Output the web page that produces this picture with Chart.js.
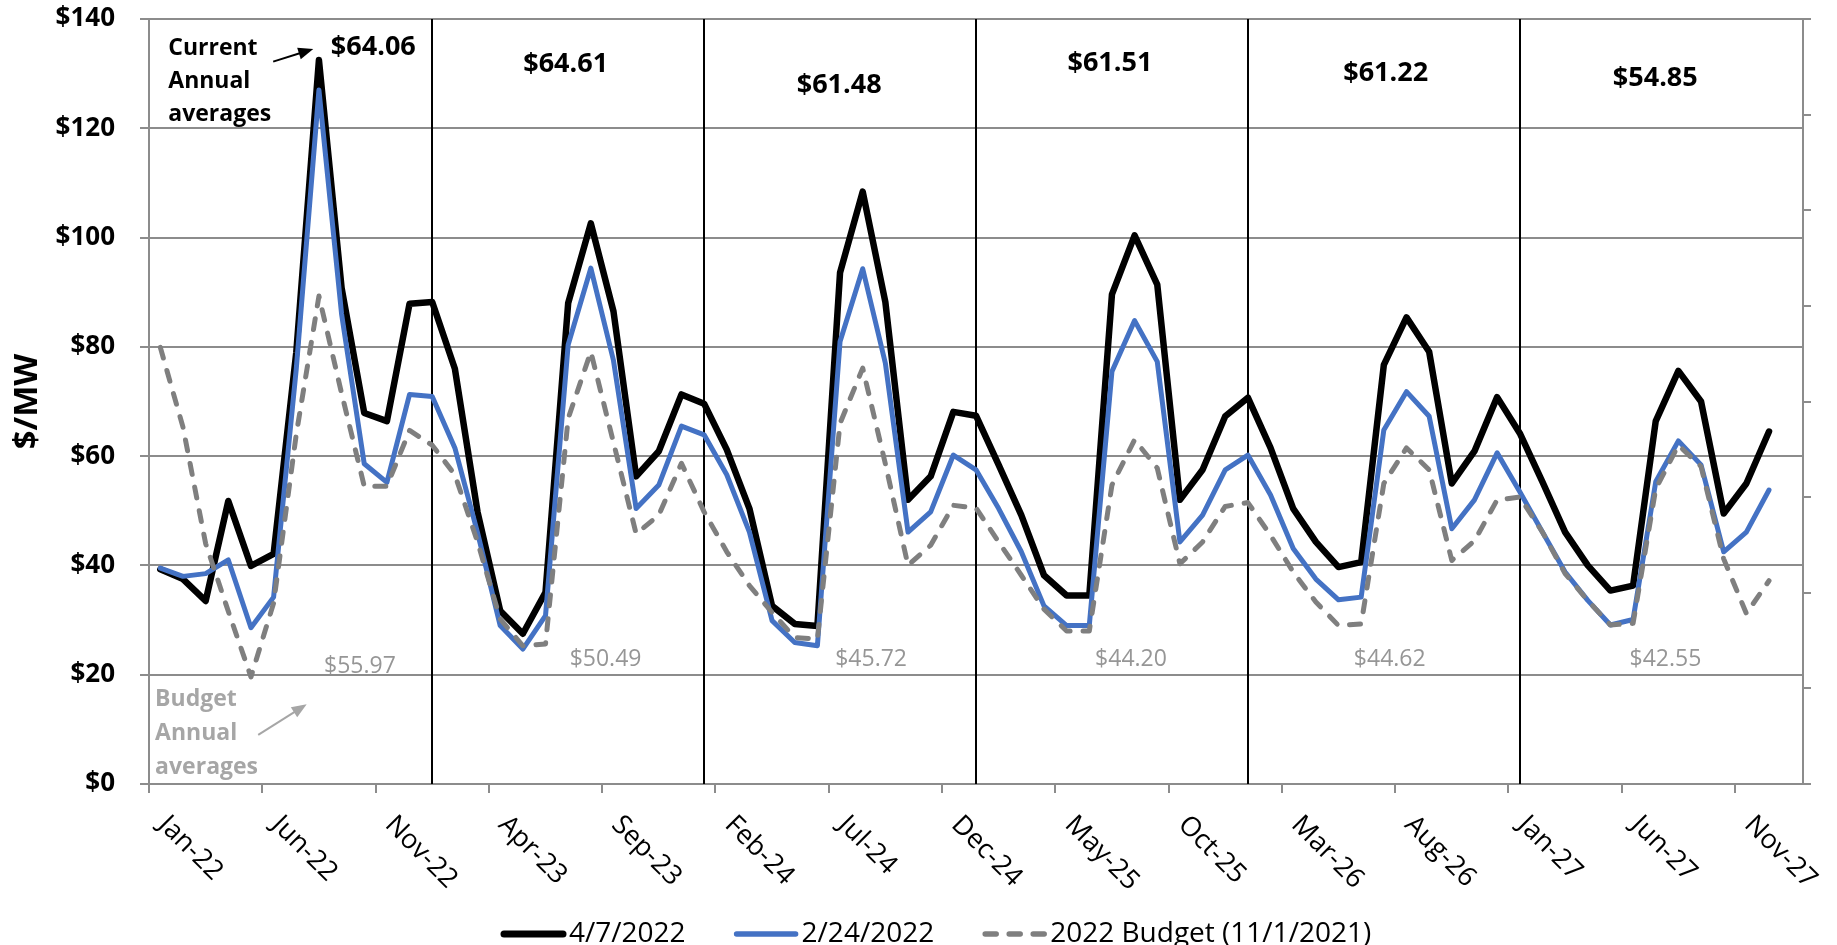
<!DOCTYPE html>
<html>
<head>
<meta charset="utf-8">
<title>Monthly capacity curve ($/MW)</title>
<script src="https://cdn.jsdelivr.net/npm/chart.js@4.4.1/dist/chart.umd.min.js"></script>
<style>
  html, body { margin: 0; padding: 0; background: #fff; }
  canvas { display: block; }
</style>
</head>
<body>
<canvas id="curveChart" width="1837" height="945"></canvas>
<script>
// Monthly categories Jan-22 .. Dec-27, plus one empty slot at the right end
const MONTHS = ["Jan", "Feb", "Mar", "Apr", "May", "Jun", "Jul", "Aug", "Sep", "Oct", "Nov", "Dec"];
const YEARS = ["22", "23", "24", "25", "26", "27"];
const categories = YEARS.flatMap(y => MONTHS.map(m => `${m}-${y}`)).concat("Jan-28");

const seriesNames = ["4/7/2022", "2/24/2022", "2022 Budget (11/1/2021)"];

const curveApr7 = [
  39.3, 37.5, 33.5, 51.8, 39.9, 42.1, 79.0, 132.5, 90.8, 67.9, 66.4, 87.9,
  88.2, 76.0, 49.8, 31.7, 27.5, 35.1, 88.0, 102.6, 86.5, 56.3, 60.9, 71.3,
  69.6, 61.2, 50.4, 32.6, 29.3, 28.9, 93.6, 108.4, 88.2, 52.0, 56.3, 68.1,
  67.4, 58.4, 49.2, 38.2, 34.5, 34.5, 89.6, 100.4, 91.4, 52.0, 57.5, 67.3,
  70.7, 61.5, 50.4, 44.3, 39.7, 40.6, 76.7, 85.4, 79.1, 55.0, 60.9, 70.8,
  64.2, 55.3, 46.1, 40.0, 35.4, 36.3, 66.4, 75.6, 70.0, 49.5, 55.0, 64.5,
];

const curveFeb24 = [
  39.5, 38.0, 38.5, 41.0, 28.6, 34.2, 76.0, 127.0, 86.0, 58.6, 55.2, 71.3,
  70.9, 61.5, 46.0, 29.0, 24.7, 30.8, 80.4, 94.4, 77.5, 50.4, 54.7, 65.5,
  63.9, 56.6, 46.1, 29.9, 25.9, 25.3, 81.0, 94.3, 77.0, 46.1, 49.8, 60.2,
  57.5, 50.4, 42.5, 32.6, 29.0, 29.0, 75.5, 84.8, 77.3, 44.3, 49.2, 57.5,
  60.2, 52.9, 43.1, 37.5, 33.7, 34.2, 64.8, 71.8, 67.3, 46.7, 52.0, 60.6,
  53.5, 46.1, 38.8, 33.6, 29.1, 30.1, 55.3, 62.8, 58.4, 42.5, 46.1, 53.8,
];

const budgetNov1 = [
  79.9, 65.3, 44.0, 31.6, 19.6, 33.1, 64.0, 89.3, 71.5, 54.5, 54.5, 64.7,
  62.0, 56.6, 44.3, 30.2, 25.3, 25.6, 66.9, 79.1, 62.5, 45.8, 49.2, 58.7,
  49.8, 42.5, 36.3, 31.4, 26.8, 26.5, 66.0, 76.1, 58.6, 40.0, 43.7, 51.0,
  50.5, 44.3, 38.2, 32.0, 28.0, 28.0, 54.7, 63.0, 57.8, 40.3, 44.3, 50.8,
  51.5, 45.5, 38.8, 33.3, 29.0, 29.3, 55.0, 61.5, 57.5, 40.9, 44.5, 52.0,
  52.5, 46.1, 38.5, 33.6, 29.1, 29.4, 54.0, 62.0, 58.1, 41.2, 31.2, 37.2,
];

// calendar-year averages written above / below each year block
const currentAverages = [64.06, 64.61, 61.48, 61.51, 61.22, 54.85];
const budgetAverages = [55.97, 50.49, 45.72, 44.20, 44.62, 42.55];

// where those averages sit: [category index, $/MW]
const currentAvgAt = [[9.40, 133.4], [17.89, 130.3], [29.96, 126.5], [41.91, 130.5], [54.08, 128.7], [65.98, 127.7]];
const budgetAvgAt = [[8.81, 20.3], [19.65, 21.6], [31.37, 21.6], [42.84, 21.6], [54.26, 21.6], [66.43, 21.6]];

const GRID = "#8c8c8c";
const FONT = "'Open Sans', 'Noto Sans', sans-serif";

function arrow(ctx, x1, y1, x2, y2, color) {
  const a = Math.atan2(y2 - y1, x2 - x1);
  const c = Math.cos(a), s = Math.sin(a);
  ctx.strokeStyle = color;
  ctx.fillStyle = color;
  ctx.lineWidth = 2;
  ctx.beginPath();
  ctx.moveTo(x1, y1);
  ctx.lineTo(x2 - 10 * c, y2 - 10 * s);
  ctx.stroke();
  ctx.beginPath();
  ctx.moveTo(x2, y2);
  ctx.lineTo(x2 - 15 * c + 6 * s, y2 - 15 * s - 6 * c);
  ctx.lineTo(x2 - 15 * c - 6 * s, y2 - 15 * s + 6 * c);
  ctx.closePath();
  ctx.fill();
}

function textLines(ctx, lines, x, y, step) {
  lines.forEach((t, i) => ctx.fillText(t, x, y + i * step));
}

// keep the plot box where it is: no extra room for half tick labels
function fixedWidth(w) {
  return s => {
    s.width = w;
    s.paddingTop = 0;
    s.paddingBottom = 0;
  };
}

// black rules at each January after the first year
const yearRules = {
  id: "yearRules",
  beforeDatasetsDraw(chart) {
    const { ctx, chartArea, scales } = chart;
    ctx.save();
    ctx.strokeStyle = "#000";
    ctx.lineWidth = 2;
    categories.forEach((c, i) => {
      if (!c.startsWith("Jan") || i === 0 || i >= curveApr7.length) return;
      const x = Math.round(scales.x.getPixelForValue(i));
      ctx.beginPath();
      ctx.moveTo(x, chartArea.top);
      ctx.lineTo(x, chartArea.bottom);
      ctx.stroke();
    });
    ctx.restore();
  },
};

const annotations = {
  id: "annotations",
  afterDraw(chart) {
    const { ctx, scales } = chart;
    const px = i => scales.x.getPixelForValue(i);
    const py = v => scales.y.getPixelForValue(v);
    ctx.save();

    // annual averages
    ctx.textAlign = "center";
    ctx.textBaseline = "alphabetic";
    ctx.font = `bold 27px ${FONT}`;
    ctx.fillStyle = "#000";
    currentAverages.forEach((v, k) => {
      ctx.fillText("$" + v.toFixed(2), px(currentAvgAt[k][0]), py(currentAvgAt[k][1]));
    });
    ctx.font = `23px ${FONT}`;
    ctx.fillStyle = "#969696";
    budgetAverages.forEach((v, k) => {
      ctx.fillText("$" + v.toFixed(2), px(budgetAvgAt[k][0]), py(budgetAvgAt[k][1]));
    });

    // call-outs
    ctx.textAlign = "left";
    ctx.font = `bold 23px ${FONT}`;
    ctx.fillStyle = "#000";
    textLines(ctx, ["Current", "Annual", "averages"], px(0.35), py(133.4), 33);
    arrow(ctx, px(4.98), py(132.2), px(6.75), py(134.5), "#000");
    ctx.fillStyle = "#a6a6a6";
    textLines(ctx, ["Budget", "Annual", "averages"], px(-0.23), py(14.3), 34);
    arrow(ctx, px(4.32), py(9.0), px(6.46), py(14.6), "#a6a6a6");

    // month labels every fifth category, slanted down to the right
    ctx.font = `27px ${FONT}`;
    ctx.fillStyle = "#000";
    categories.forEach((c, i) => {
      if (i % 5 !== 0 || i >= curveApr7.length) return;
      ctx.save();
      ctx.translate(px(i) - 3, scales.x.top + 42);
      ctx.rotate(Math.PI / 4);
      ctx.fillText(c, 0, 0);
      ctx.restore();
    });

    // legend
    let x = 501;
    const y = 934;
    ctx.font = `28px ${FONT}`;
    chart.data.datasets.forEach(ds => {
      ctx.strokeStyle = ds.borderColor;
      ctx.lineWidth = ds.borderWidth + 0.5;
      ctx.lineCap = "round";
      ctx.setLineDash(ds.borderDash || []);
      ctx.beginPath();
      ctx.moveTo(x + 3, y);
      ctx.lineTo(x + 62, y);
      ctx.stroke();
      ctx.setLineDash([]);
      ctx.fillStyle = "#000";
      ctx.fillText(ds.label, x + 68, y + 8);
      x += 68 + ctx.measureText(ds.label).width + 48;
    });

    ctx.restore();
  },
};

const lineStyle = { pointRadius: 0, tension: 0, borderJoinStyle: "round", borderCapStyle: "round", fill: false };

new Chart(document.getElementById("curveChart"), {
  type: "line",
  data: {
    labels: categories,
    datasets: [
      { ...lineStyle, label: seriesNames[0], data: curveApr7, borderColor: "#000000", borderWidth: 6.5, order: 2 },
      { ...lineStyle, label: seriesNames[1], data: curveFeb24, borderColor: "#4472c4", borderWidth: 5, order: 1 },
      { ...lineStyle, label: seriesNames[2], data: budgetNov1, borderColor: "#7f7f7f", borderWidth: 5, borderDash: [11, 13], order: 0 },
    ],
  },
  options: {
    responsive: false,
    animation: false,
    layout: { padding: { top: 19, left: 0, right: 0, bottom: 0 } },
    plugins: { legend: { display: false }, tooltip: { enabled: false } },
    scales: {
      x: {
        offset: true,
        grid: {
          offset: true,
          drawOnChartArea: false,
          tickLength: 9,
          lineWidth: 2,
          color: c => (c.index % 5 === 0 && c.index < curveApr7.length ? GRID : "rgba(0,0,0,0)"),
        },
        border: { color: GRID, width: 2 },
        ticks: { display: false, autoSkip: false },
        afterFit: s => {
          s.height = 161;
          s.paddingLeft = 0;
          s.paddingRight = 0;
        },
      },
      y: {
        position: "left",
        min: 0,
        max: 140,
        ticks: {
          stepSize: 20,
          padding: 25,
          color: "#000",
          font: { family: FONT, weight: "bold", size: 26 },
          callback: v => "$" + v,
        },
        grid: { color: GRID, lineWidth: 2, tickLength: 9 },
        border: { color: GRID, width: 2 },
        title: {
          display: true,
          text: "$/MW",
          color: "#000",
          font: { family: FONT, weight: "bold", size: 33 },
          padding: { top: 8, bottom: 0 },
        },
        afterFit: fixedWidth(149),
      },
      y2: {
        position: "right",
        min: 0,
        max: 8,
        ticks: { display: false, stepSize: 1 },
        grid: { drawOnChartArea: false, color: GRID, lineWidth: 2, tickLength: 8 },
        border: { color: GRID, width: 2 },
        afterFit: fixedWidth(34),
      },
    },
  },
  plugins: [yearRules, annotations],
});
</script>
</body>
</html>
